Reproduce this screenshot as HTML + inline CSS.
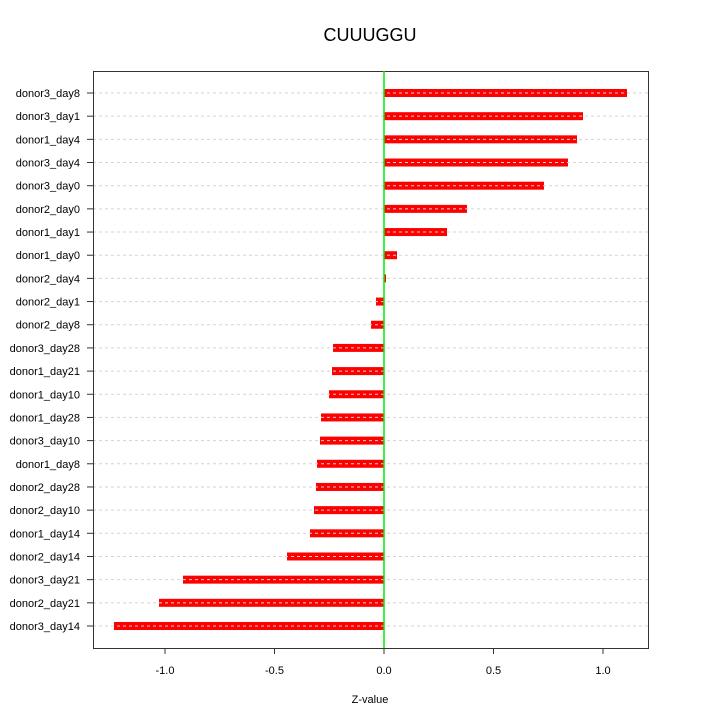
<!DOCTYPE html>
<html><head><style>body{margin:0;background:#fff}</style></head><body>
<svg width="720" height="720" xmlns="http://www.w3.org/2000/svg" font-family="Liberation Sans, sans-serif">
<rect width="720" height="720" fill="#fff"/>
<text x="370" y="41" font-size="18" text-anchor="middle">CUUUGGU</text>
<g id="bars"></g>
<rect x="93.5" y="71.5" width="555" height="577" fill="none" stroke="#333" stroke-width="1"/>
<line x1="384" y1="71" x2="384" y2="648" stroke="#00ee00" stroke-width="1.5"/>
<g font-size="11" text-anchor="middle" fill="#000">
<line x1="165" y1="648" x2="165" y2="654" stroke="#333"/><text x="165" y="674">-1.0</text>
<line x1="274.5" y1="648" x2="274.5" y2="654" stroke="#333"/><text x="274.5" y="674">-0.5</text>
<line x1="384" y1="648" x2="384" y2="654" stroke="#333"/><text x="384" y="674">0.0</text>
<line x1="493.5" y1="648" x2="493.5" y2="654" stroke="#333"/><text x="493.5" y="674">0.5</text>
<line x1="603" y1="648" x2="603" y2="654" stroke="#333"/><text x="603" y="674">1.0</text>
<text x="370" y="703">Z-value</text>
</g>
<g id="rows" font-size="11" text-anchor="end"></g>
<script>
var d=[["donor3_day8",627],["donor3_day1",583],["donor1_day4",577],["donor3_day4",568],["donor3_day0",544],["donor2_day0",467],["donor1_day1",447],["donor1_day0",397],["donor2_day4",386],["donor2_day1",376],["donor2_day8",371],["donor3_day28",333],["donor1_day21",332],["donor1_day10",329],["donor1_day28",321],["donor3_day10",320],["donor1_day8",317],["donor2_day28",316],["donor2_day10",314],["donor1_day14",310],["donor2_day14",287],["donor3_day21",183],["donor2_day21",159],["donor3_day14",114]];
var ns="http://www.w3.org/2000/svg",b=document.getElementById("bars"),r=document.getElementById("rows");
function el(t,a,p){var e=document.createElementNS(ns,t);for(var k in a)e.setAttribute(k,a[k]);p.appendChild(e);return e;}
d.forEach(function(v,i){var y=93+i*(533/23);
var x0=Math.min(384,v[1]),w=Math.abs(v[1]-384);
el("rect",{x:x0,y:y-4,width:w,height:8,fill:"#ff0000"},b);
el("line",{x1:93,y1:y,x2:648,y2:y,stroke:"#d3d3d3","stroke-dasharray":"3,3","stroke-width":1},b);
el("line",{x1:87,y1:y,x2:93,y2:y,stroke:"#333"},r);
var t=el("text",{x:80,y:y+4},r);t.textContent=v[0];});
</script>
</svg>
</body></html>
